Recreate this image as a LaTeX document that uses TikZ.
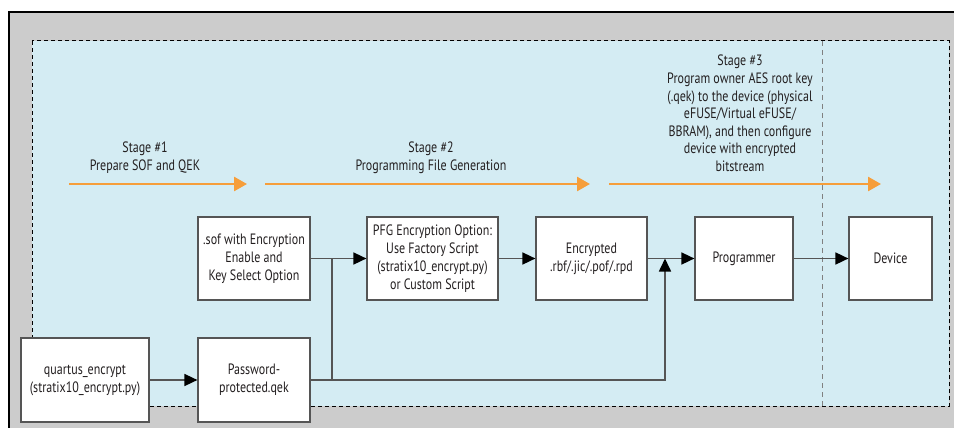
\documentclass[tikz,border=0pt]{standalone}
\usepackage{fontspec}
\setmainfont{PT Sans}[FakeStretch=0.8]
\usetikzlibrary{arrows.meta}
\definecolor{panelgray}{RGB}{204,204,204}
\definecolor{stagebg}{RGB}{212,236,243}
\definecolor{flow}{RGB}{246,158,58}
\definecolor{wire}{RGB}{85,85,85}
\definecolor{ink}{RGB}{35,31,32}
\tikzset{
  blk/.style={draw=wire, line width=1.2pt, fill=white, align=center,
    inner sep=0pt, text=ink, font=\fontsize{15}{18}\selectfont},
  stagetxt/.style={align=center, inner sep=0pt, text=ink,
    font=\fontsize{15}{17.6}\selectfont},
  stagearrow/.style={draw=flow, line width=2.6pt,
    -{Triangle[length=13pt,width=14pt]}},
  wireline/.style={draw=wire, line width=1.6pt},
  wirearrow/.style={wireline, -{Triangle[length=13pt,width=12pt,fill=black,color=black]}},
}
\begin{document}
\begin{tikzpicture}[x=1pt,y=-1pt]
\useasboundingbox (0,0) rectangle (954,428);
\fill[white] (0,0) rectangle (954,428);
% outer panel (only top and left borders fall inside the page)
\fill[panelgray] (9,12) rectangle (954,428);
\draw[black, line width=1.3pt] (9,428) -- (9,12) -- (954,12);
% dashed stage region
\filldraw[fill=stagebg, draw=black, line width=1pt, dash pattern=on 4pt off 3pt]
  (32,41) rectangle (949,406);
% separator between programmer and device
\draw[gray, line width=0.7pt, dash pattern=on 5pt off 4pt] (822,41) -- (822,406);

% stage headings (anchored on the baseline of their last line)
\node[stagetxt, anchor=base] (s1) at (145,170) {Stage \#1\\Prepare SOF and QEK};
\node[stagetxt, anchor=base] (s2) at (431,170) {Stage \#2\\Programming File Generation};
\node[stagetxt, anchor=base] (s3) at (740,171.5) {Stage \#3\\Program owner AES root key\\(.qek) to the device (physical\\eFUSE/Virtual eFUSE/\\BBRAM), and then configure\\device with encrypted\\bitstream};

% stage arrows
\coordinate (a1s) at (69,184);  \coordinate (a1e) at (247,184);
\coordinate (a2s) at (265,184); \coordinate (a2e) at (590,184);
\coordinate (a3s) at (609,184); \coordinate (a3e) at (881,184);
\draw[stagearrow] (a1s) -- (a1e);
\draw[stagearrow] (a2s) -- (a2e);
\draw[stagearrow] (a3s) -- (a3e);

% blocks
\node[blk, minimum width=112pt, minimum height=83pt] (sof) at (254,258.5)
  {.sof with Encryption\\Enable and\\Key Select Option};
\node[blk, minimum width=131pt, minimum height=83pt] (pfg) at (432.5,258.5)
  {PFG Encryption Option:\\Use Factory Script\\(stratix10\_encrypt.py)\\or Custom Script};
\node[blk, minimum width=111pt, minimum height=83pt] (enc) at (591.5,258.5)
  {Encrypted\\.rbf/.jic/.pof/.rpd};
\node[blk, minimum width=98pt, minimum height=83pt] (prog) at (744,258.5)
  {Programmer};
\node[blk, minimum width=83pt, minimum height=83pt] (dev) at (890.5,258.5)
  {Device};
\node[blk, minimum width=128pt, minimum height=84pt] (qe) at (85,380)
  {quartus\_encrypt\\(stratix10\_encrypt.py)};
\node[blk, minimum width=112pt, minimum height=84pt] (pw) at (254,380)
  {Password-\\protected.qek};

% connectors
\coordinate (tapA) at (332,380);
\coordinate (tapB) at (665,258.5);
\draw[wirearrow] (sof.east) -- (pfg.west);
\draw[wirearrow] (pfg.east) -- (enc.west);
\draw[wirearrow] (enc.east) -- (prog.west);
\draw[wirearrow] (prog.east) -- (dev.west);
\draw[wirearrow] (qe.east) -- (pw.west);
\draw[wireline] (tapA) -- (tapA |- sof.east);
\draw[wirearrow] (pw.east) -| (tapB);
\end{tikzpicture}
\end{document}
